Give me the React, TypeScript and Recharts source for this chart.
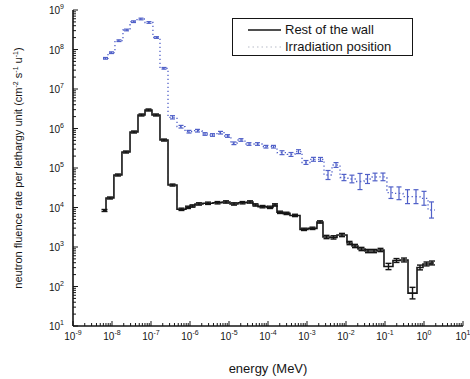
import { ComposedChart, Line, Scatter, ErrorBar, XAxis, YAxis } from "recharts";

// bin edges (MeV) and per-bin values
const wallEdges = [
  5.87e-9, 7.02e-9, 1.12e-8, 1.8e-8, 2.9e-8, 4.64e-8, 7.02e-8, 1.06e-7, 1.7e-7, 2.73e-7,
  4.64e-7, 7.88e-7, 1.0e-6, 1.34e-6, 2.15e-6, 3.89e-6, 6.62e-6, 1.06e-5, 1.7e-5, 2.9e-5,
  4.12e-5, 5.55e-5, 9.42e-5, 1.34e-4, 1.7e-4, 2.43e-4, 3.66e-4, 6.62e-4, 1.06e-3, 1.8e-3,
  2.57e-3, 3.89e-3, 5.88e-3, 1.06e-2, 1.43e-2, 2.03e-2, 3.07e-2, 4.38e-2, 6.24e-2, 9.42e-2,
  0.16, 0.243, 0.389, 0.662, 0.942, 1.43, 1.8,
];
const wallValues = [
  8.4e3, 1.74e4, 6.65e4, 2.54e5, 8.15e5, 2.2e6, 2.94e6, 2.2e6, 5.1e5, 3.7e4,
  9.0e3, 1.01e4, 1.09e4, 1.23e4, 1.28e4, 1.32e4, 1.38e4, 1.23e4, 1.32e4, 1.38e4,
  1.16e4, 1.05e4, 1.01e4, 1.16e4, 7.55e3, 7.1e3, 6.3e3, 2.8e3, 2.97e3, 4.3e3,
  1.79e3, 1.75e3, 2.01e3, 1.26e3, 1.06e3, 890, 790, 790, 840, 321,
  455, 469, 68, 303, 372, 394,
];
// multiplicative error factor per bin
const wallErr = [
  1.06, 1.06, 1.06, 1.06, 1.06, 1.06, 1.06, 1.06, 1.06, 1.06,
  1.07, 1.07, 1.07, 1.07, 1.07, 1.07, 1.07, 1.07, 1.07, 1.07,
  1.07, 1.07, 1.07, 1.07, 1.07, 1.07, 1.07, 1.07, 1.07, 1.07,
  1.1, 1.1, 1.1, 1.1, 1.1, 1.1, 1.1, 1.1, 1.1, 1.2,
  1.12, 1.12, 1.4, 1.15, 1.12, 1.12,
];

const irrEdges = [
  5.87e-9, 7.89e-9, 1.19e-8, 1.91e-8, 2.9e-8, 4.38e-8, 7.02e-8, 1.12e-7, 1.7e-7, 2.73e-7,
  4.64e-7, 7.45e-7, 1.19e-6, 2.03e-6, 2.9e-6, 4.92e-6, 7.45e-6, 1.12e-5, 1.6e-5, 2.57e-5,
  4.12e-5, 7.02e-5, 1.12e-4, 1.7e-4, 3.07e-4, 4.92e-4, 7.45e-4, 1.19e-3, 1.8e-3, 2.73e-3,
  4.38e-3, 7.02e-3, 1.12e-2, 1.8e-2, 2.9e-2, 4.38e-2, 7.02e-2, 0.112, 0.18, 0.29,
  0.492, 0.789, 1.27, 1.91,
];
const irrValues = [
  5.98e7, 8.3e7, 1.67e8, 3.12e8, 5.06e8, 5.92e8, 4.83e8, 2.01e8, 3.34e7, 1.92e6,
  1.11e6, 8.3e5, 8.8e5, 7.26e5, 6.85e5, 7.83e5, 6.46e5, 4.22e5, 5.12e5, 4.05e5,
  4.05e5, 3.46e5, 3.46e5, 2.44e5, 2.2e5, 2.59e5, 1.38e5, 1.66e5, 1.65e5, 6.65e4,
  1.19e5, 5.74e4, 5.27e4, 4.55e4, 5.27e4, 5.92e4, 5.96e4, 2.37e4, 2.29e4, 1.88e4,
  1.88e4, 1.71e4, 8.65e3,
];
const irrErr = [
  1.05, 1.05, 1.05, 1.05, 1.05, 1.05, 1.05, 1.05, 1.05, 1.1,
  1.08, 1.08, 1.08, 1.08, 1.08, 1.08, 1.08, 1.08, 1.08, 1.08,
  1.08, 1.08, 1.08, 1.12, 1.12, 1.12, 1.12, 1.12, 1.12, 1.3,
  1.15, 1.2, 1.25, 1.6, 1.3, 1.25, 1.25, 1.4, 1.45, 1.5,
  1.5, 1.5, 1.6,
];

const decadesX = [-9, -8, -7, -6, -5, -4, -3, -2, -1, 0, 1];
const decadesY = [1, 2, 3, 4, 5, 6, 7, 8, 9];

const FONT = "'Liberation Sans', Arial, sans-serif";
const BLUE = "#5060c8";
const INK = "#151515";

const minorTicks = (decs: number[]) => {
  const out: number[] = [];
  decs.forEach((d, i) => {
    out.push(Math.pow(10, d));
    if (i < decs.length - 1) for (let m = 2; m <= 9; m++) out.push(m * Math.pow(10, d));
  });
  return out;
};
const xTicks = minorTicks(decadesX);
const yTicks = minorTicks(decadesY);

const steps = (edges: number[], values: number[]) => {
  const pts = values.map((v, i) => ({ e: edges[i], v }));
  pts.push({ e: edges[edges.length - 1], v: values[values.length - 1] });
  return pts;
};
const bars = (edges: number[], values: number[], err: number[]) =>
  values.map((v, i) => ({
    e: Math.sqrt(edges[i] * edges[i + 1]),
    v,
    err: [v - v / err[i], v * err[i] - v],
  }));

const isMajor = (v: number) => {
  const p = Math.log10(v);
  return Math.abs(p - Math.round(p)) < 1e-6;
};

const XTick = ({ x, y, payload }: any) => {
  const major = isMajor(payload.value);
  const p = Math.round(Math.log10(payload.value));
  return (
    <g>
      <line x1={x} x2={x} y1={y} y2={y - (major ? 5 : 3)} stroke={INK} strokeWidth={1} />
      {major && (
        <text x={x} y={y + 14} textAnchor="middle" fontSize={10} fontFamily={FONT} fill={INK}>
          10<tspan dy={-5} fontSize={7}>{p}</tspan>
        </text>
      )}
    </g>
  );
};

const YTick = ({ x, y, payload }: any) => {
  const major = isMajor(payload.value);
  const p = Math.round(Math.log10(payload.value));
  return (
    <g>
      <line x1={x} x2={x + (major ? 5 : 3)} y1={y} y2={y} stroke={INK} strokeWidth={1} />
      {major && (
        <text x={x - 9} y={y + 4} textAnchor="end" fontSize={10} fontFamily={FONT} fill={INK}>
          10<tspan dy={-5} fontSize={7}>{p}</tspan>
        </text>
      )}
    </g>
  );
};

const YLabel = () => (
  <text
    x={22}
    y={168}
    transform="rotate(-90, 22, 168)"
    textAnchor="middle"
    fontSize={11}
    fontFamily={FONT}
    fill={INK}
  >
    neutron fluence rate per lethargy unit (cm<tspan dy={-4} fontSize={7}>-2</tspan>
    <tspan dy={4}> s</tspan>
    <tspan dy={-4} fontSize={7}>-1</tspan>
    <tspan dy={4}> u</tspan>
    <tspan dy={-4} fontSize={7}>-1</tspan>
    <tspan dy={4}>)</tspan>
  </text>
);

export default function App() {
  return (
    <div style={{ position: "absolute", left: 0, top: 0, width: 470, height: 379, background: "#fff" }}>
      <ComposedChart width={470} height={379} margin={{ top: 10, right: 7, left: 0, bottom: 0 }}>
        <XAxis
          dataKey="e"
          type="number"
          scale="log"
          domain={[1e-9, 10]}
          allowDataOverflow
          ticks={xTicks}
          interval={0}
          tick={<XTick />}
          tickLine={false}
          tickSize={0}
          tickMargin={0}
          height={53}
          axisLine={{ stroke: INK, strokeWidth: 1.6 }}
          label={{ value: "energy (MeV)", position: "insideBottom", offset: 6, fontSize: 13, fontFamily: FONT, fill: INK }}
        />
        <YAxis
          dataKey="v"
          type="number"
          scale="log"
          domain={[10, 1e9]}
          allowDataOverflow
          ticks={yTicks}
          interval={0}
          tick={<YTick />}
          tickLine={false}
          tickSize={0}
          tickMargin={0}
          width={73}
          axisLine={{ stroke: INK, strokeWidth: 1.6 }}
          label={<YLabel />}
        />
        <XAxis xAxisId="top" orientation="top" type="number" domain={[0, 1]} height={0} tick={false} tickLine={false} axisLine={{ stroke: INK, strokeWidth: 1.4 }} />
        <YAxis yAxisId="right" orientation="right" type="number" domain={[0, 1]} width={0} tick={false} tickLine={false} axisLine={{ stroke: INK, strokeWidth: 1.4 }} />
        <Line
          data={steps(irrEdges, irrValues)}
          dataKey="v"
          type="stepAfter"
          stroke={BLUE}
          strokeWidth={1.3}
          strokeDasharray="1.3 2.7"
          dot={false}
          isAnimationActive={false}
        />
        <Scatter data={bars(irrEdges, irrValues, irrErr)} dataKey="v" shape={() => <g />} isAnimationActive={false}>
          <ErrorBar dataKey="err" direction="y" width={2.5} stroke={BLUE} strokeWidth={1.2} isAnimationActive={false} />
        </Scatter>
        <Line
          data={steps(wallEdges, wallValues)}
          dataKey="v"
          type="stepAfter"
          stroke={INK}
          strokeWidth={1.6}
          dot={false}
          isAnimationActive={false}
        />
        <Scatter data={bars(wallEdges, wallValues, wallErr)} dataKey="v" shape={() => <g />} isAnimationActive={false}>
          <ErrorBar dataKey="err" direction="y" width={3} stroke={INK} strokeWidth={1.4} isAnimationActive={false} />
        </Scatter>
      </ComposedChart>
      <div
        style={{
          position: "absolute",
          left: 232,
          top: 18,
          width: 179,
          height: 36,
          border: `1.3px solid ${INK}`,
          background: "#fff",
          fontFamily: FONT,
          fontSize: 13,
          color: INK,
        }}
      >
        <div style={{ position: "absolute", left: 15, top: 4, display: "flex", alignItems: "center" }}>
          <svg width={34} height={10}>
            <line x1={0} x2={33} y1={5} y2={5} stroke={INK} strokeWidth={1.4} />
          </svg>
          <span style={{ marginLeft: 3, lineHeight: "14px" }}>Rest of the wall</span>
        </div>
        <div style={{ position: "absolute", left: 15, top: 21, display: "flex", alignItems: "center" }}>
          <svg width={34} height={10}>
            <line x1={0} x2={33} y1={5} y2={5} stroke="#b8bcc8" strokeWidth={1.2} strokeDasharray="1.5 3" />
          </svg>
          <span style={{ marginLeft: 3, lineHeight: "14px" }}>Irradiation position</span>
        </div>
      </div>
    </div>
  );
}
